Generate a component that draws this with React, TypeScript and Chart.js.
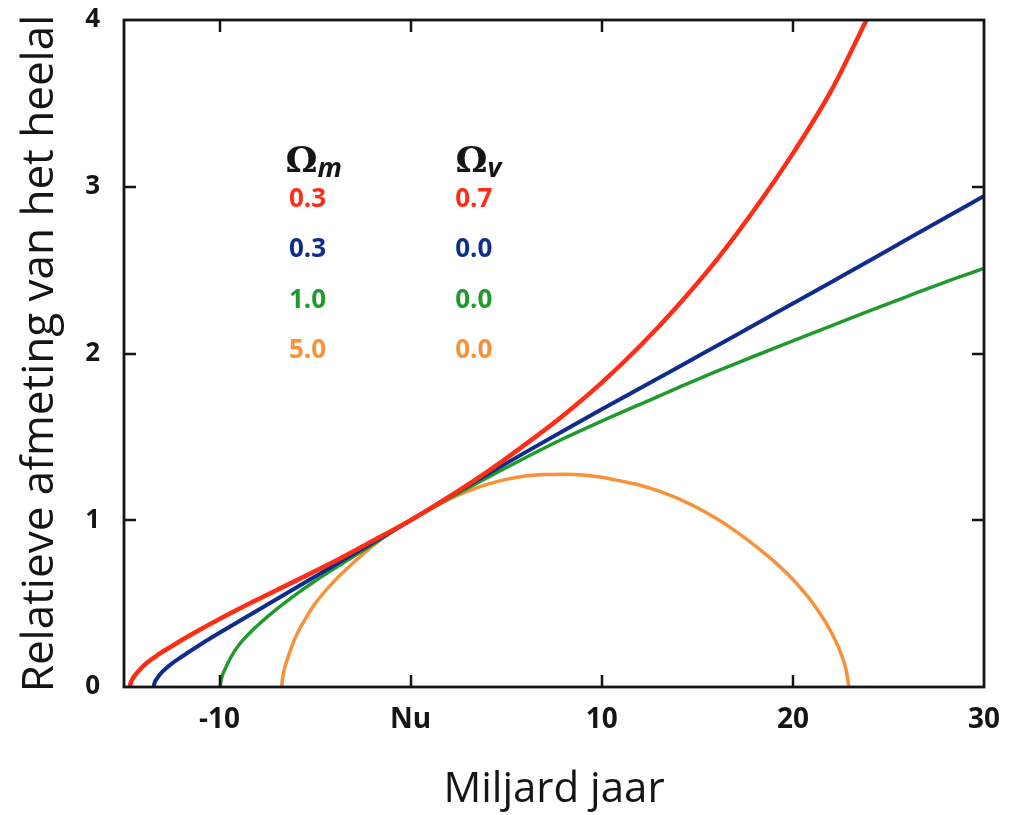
import React, { useEffect, useRef } from "react";
import { Chart, registerables } from "chart.js";

Chart.register(...registerables);

// ---- Data ----
// Omega_m = 0.3, Omega_v = 0.7
const redX = [-14.7, -14.65, -14.5, -14.2, -13.8, -13.2, -12.5, -11.5, -10, -8, -6, -4, -2, 0, 2, 4, 6, 8, 10, 12, 14, 16, 18, 20, 22, 23.85];
const redY = [0, 0.025, 0.058, 0.1, 0.145, 0.195, 0.245, 0.313, 0.408, 0.525, 0.638, 0.752, 0.875, 1.0, 1.14, 1.29, 1.455, 1.63, 1.825, 2.045, 2.29, 2.56, 2.865, 3.2, 3.575, 4.0];

// Omega_m = 0.3, Omega_v = 0.0
const blueX = [-13.45, -13.4, -13.25, -13.0, -12.5, -12, -11, -10, -8, -6, -4, -2, 0, 2, 4, 6, 8, 10, 12, 14, 16, 18, 20, 22, 24, 26, 28, 30];
const blueY = [0, 0.025, 0.055, 0.09, 0.14, 0.18, 0.255, 0.325, 0.46, 0.595, 0.73, 0.865, 1.0, 1.139, 1.275, 1.407, 1.537, 1.665, 1.792, 1.918, 2.045, 2.172, 2.3, 2.428, 2.556, 2.686, 2.815, 2.945];

// Omega_m = 1.0, Omega_v = 0.0
const greenX = [-9.97, -9.9, -9.7, -9.4, -9.0, -8.5, -8, -7, -6, -5, -4, -3, -2, -1, 0, 2, 4, 6, 8, 10, 12, 14, 16, 18, 20, 22, 24, 26, 28, 30];
const greenY = [0, 0.05, 0.11, 0.18, 0.25, 0.315, 0.37, 0.468, 0.556, 0.636, 0.71, 0.783, 0.855, 0.928, 1.0, 1.13, 1.255, 1.375, 1.49, 1.595, 1.695, 1.795, 1.893, 1.985, 2.075, 2.165, 2.255, 2.343, 2.43, 2.51];

// Omega_m = 5.0, Omega_v = 0.0
const orangeX = [-6.75, -6.7, -6.6, -6.4, -6.0, -5.5, -5.0, -4.0, -3.0, -2.0, -1.0, 0, 1, 2, 3, 4, 5, 6, 7, 8.1, 9, 10, 11, 12, 13, 14, 15, 16, 17, 18, 19, 20, 21, 21.7, 22.2, 22.55, 22.8, 22.93];
const orangeY = [0, 0.055, 0.11, 0.185, 0.305, 0.41, 0.5, 0.635, 0.745, 0.845, 0.93, 1.0, 1.065, 1.125, 1.175, 1.215, 1.245, 1.265, 1.274, 1.276, 1.272, 1.258, 1.235, 1.21, 1.175, 1.13, 1.075, 1.01, 0.935, 0.85, 0.755, 0.645, 0.51, 0.39, 0.285, 0.19, 0.095, 0];

const omegaM = ["0.3", "0.3", "1.0", "5.0"];
const omegaV = ["0.7", "0.0", "0.0", "0.0"];

const xTickValues = [-10, 0, 10, 20, 30];
const xTickLabels = ["-10", "Nu", "10", "20", "30"];
const yTickValues = [0, 1, 2, 3, 4];
const yTickLabels = ["0", "1", "2", "3", "4"];

const xTitle = "Miljard jaar";
const yTitle = "Relatieve afmeting van het heelal";

// ---- Styles / layout ----
const colors = ["#ff2d16", "#0f2c8e", "#1f9a2b", "#f8923a"];
const widths = [4.5, 4, 3.5, 3.5];
const ink = "#151515";

// table positions (data units)
const headerX = [-6.55, 2.35];
const headerBaseY = 3.09;
const colCenterX = [-5.4, 3.3];
const rowY = [2.92, 2.625, 2.32, 2.015];

const toPts = (xs: number[], ys: number[]) => xs.map((x, i) => ({ x, y: ys[i] }));

const framePlugin = {
  id: "frame",
  afterDatasetsDraw(chart: any) {
    const { ctx, chartArea: a, scales } = chart;
    const sx = scales.x;
    const sy = scales.y;
    const tl = 12;
    ctx.save();
    ctx.strokeStyle = ink;
    ctx.lineWidth = 2.8;
    ctx.strokeRect(a.left, a.top, a.right - a.left, a.bottom - a.top);
    ctx.lineWidth = 2.5;
    ctx.beginPath();
    for (const v of xTickValues) {
      const px = Math.round(sx.getPixelForValue(v));
      if (px <= a.left + 2 || px >= a.right - 2) continue;
      ctx.moveTo(px, a.bottom);
      ctx.lineTo(px, a.bottom - tl);
      ctx.moveTo(px, a.top);
      ctx.lineTo(px, a.top + tl);
    }
    for (const v of yTickValues) {
      const py = Math.round(sy.getPixelForValue(v));
      if (py <= a.top + 2 || py >= a.bottom - 2) continue;
      ctx.moveTo(a.left, py);
      ctx.lineTo(a.left + tl, py);
      ctx.moveTo(a.right, py);
      ctx.lineTo(a.right - tl, py);
    }
    ctx.stroke();
    ctx.restore();
  },
};

const tablePlugin = {
  id: "omegaTable",
  afterDatasetsDraw(chart: any) {
    const { ctx, scales } = chart;
    const sx = scales.x;
    const sy = scales.y;
    ctx.save();
    const subs = ["m", "v"];
    headerX.forEach((hx, i) => {
      const px = sx.getPixelForValue(hx);
      const py = sy.getPixelForValue(headerBaseY);
      ctx.fillStyle = ink;
      ctx.textAlign = "left";
      ctx.textBaseline = "alphabetic";
      ctx.font = 'bold 36px "DejaVu Serif"';
      ctx.fillText("\u03A9", px, py);
      const w = ctx.measureText("\u03A9").width;
      ctx.font = 'italic bold 27px "Open Sans"';
      ctx.fillText(subs[i], px + w, py + 5);
    });
    ctx.font = 'bold 26px "Open Sans"';
    ctx.textAlign = "center";
    ctx.textBaseline = "middle";
    rowY.forEach((ry, r) => {
      const py = sy.getPixelForValue(ry);
      ctx.fillStyle = colors[r];
      ctx.fillText(omegaM[r], sx.getPixelForValue(colCenterX[0]), py);
      ctx.fillText(omegaV[r], sx.getPixelForValue(colCenterX[1]), py);
    });
    ctx.restore();
  },
};

export default function App() {
  const ref = useRef<HTMLCanvasElement | null>(null);

  useEffect(() => {
    if (!ref.current) return;
    const series = [
      toPts(redX, redY),
      toPts(blueX, blueY),
      toPts(greenX, greenY),
      toPts(orangeX, orangeY),
    ];
    const chart = new Chart(ref.current, {
      type: "line",
      data: {
        datasets: series.map((d, i) => ({
          label: `\u03A9m ${omegaM[i]}, \u03A9v ${omegaV[i]}`,
          data: d,
          borderColor: colors[i],
          backgroundColor: colors[i],
          borderWidth: widths[i],
          pointRadius: 0,
          fill: false,
          cubicInterpolationMode: "monotone" as const,
        })),
      },
      options: {
        animation: false,
        responsive: false,
        devicePixelRatio: 1,
        layout: { padding: { top: 20, right: 27, left: 0, bottom: 0 } },
        plugins: {
          legend: { display: false },
          tooltip: { enabled: false },
        },
        scales: {
          x: {
            type: "linear",
            min: -15,
            max: 30,
            afterBuildTicks: (s: any) => {
              s.ticks = xTickValues.map((v) => ({ value: v }));
            },
            afterFit: (s: any) => {
              s.height = 128;
              s.paddingLeft = 0;
              s.paddingRight = 0;
            },
            grid: { display: false, drawTicks: false },
            border: { display: false },
            ticks: {
              autoSkip: false,
              maxRotation: 0,
              padding: 16,
              color: ink,
              font: { family: "Open Sans", weight: "bold", size: 28 },
              callback: (v: any) => {
                const i = xTickValues.indexOf(Number(v));
                return i >= 0 ? xTickLabels[i] : "";
              },
            },
            title: {
              display: true,
              text: xTitle,
              color: ink,
              font: { family: "Open Sans", size: 42 },
              padding: { top: 0, bottom: 0 },
            },
          },
          y: {
            type: "linear",
            min: 0,
            max: 4,
            afterBuildTicks: (s: any) => {
              s.ticks = yTickValues.map((v) => ({ value: v }));
            },
            afterFit: (s: any) => {
              s.width = 124;
              s.paddingTop = 0;
              s.paddingBottom = 0;
            },
            grid: { display: false, drawTicks: false },
            border: { display: false },
            ticks: {
              padding: 24,
              color: ink,
              font: { family: "Open Sans", weight: "bold", size: 26 },
              callback: (v: any) => {
                const i = yTickValues.indexOf(Number(v));
                return i >= 0 ? yTickLabels[i] : "";
              },
            },
            title: {
              display: true,
              text: yTitle,
              color: ink,
              font: { family: "Open Sans", size: 44 },
              padding: { top: 14, bottom: 0 },
            },
          },
        },
      },
      plugins: [framePlugin, tablePlugin],
    });
    return () => chart.destroy();
  }, []);

  return (
    <div style={{ position: "fixed", left: 0, top: 0, width: 1011, height: 815, background: "#fff" }}>
      <canvas ref={ref} width={1011} height={815} />
    </div>
  );
}
